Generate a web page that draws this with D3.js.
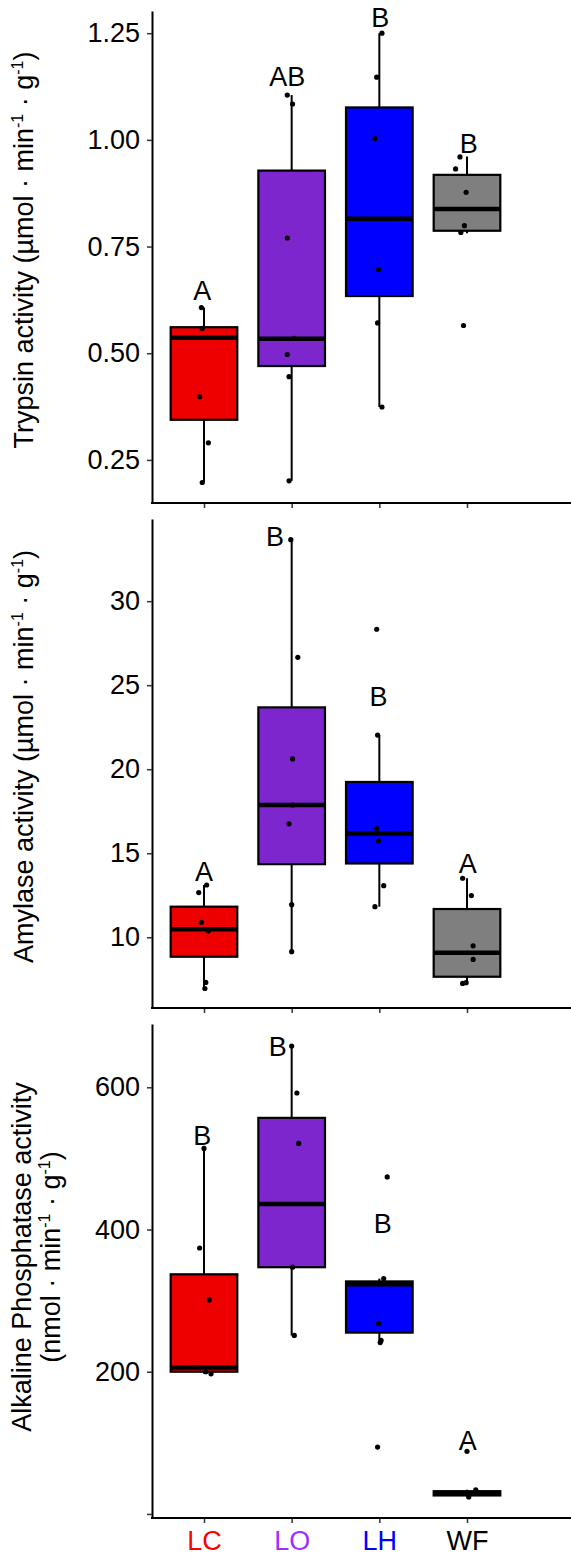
<!DOCTYPE html>
<html>
<head>
<meta charset="utf-8">
<script src="https://cdn.jsdelivr.net/npm/d3@7"></script>
<style>
  body { margin: 0; background: #fff; }
  svg { display: block; font-family: "Liberation Sans", Arial, Helvetica, sans-serif; }
</style>
</head>
<body>
<svg id="chart" width="571" height="1564"></svg>
<script>
// groups and colours
const groups = ["LC", "LO", "LH", "WF"];
const boxFill = ["#ee0000", "#7d26cd", "#0000ff", "#7f7f7f"];
const labelColor = ["#ff0000", "#9b30ff", "#0000ff", "#000000"];

// trypsin: [whisker low, q1, median, q3, whisker high] per group
const trypsinBox = [
  [0.197, 0.344, 0.536, 0.561, 0.607],
  [0.201, 0.470, 0.534, 0.928, 1.105],
  [0.374, 0.634, 0.815, 1.076, 1.250],
  [0.781, 0.787, 0.838, 0.918, 0.961]
];
const trypsinPoints = [
  [0.607, 0.558, 0.398, 0.290, 0.197],
  [1.105, 1.084, 0.770, 0.535, 0.497, 0.445, 0.201],
  [1.250, 1.147, 1.003, 0.696, 0.571, 0.374],
  [0.960, 0.932, 0.877, 0.799, 0.783, 0.565]
];
const trypsinJitter = [
  [-0.03, -0.02, -0.05, 0.05, -0.02],
  [-0.05, 0.01, -0.05, 0.03, -0.05, -0.03, -0.03],
  [0.03, -0.03, -0.05, -0.01, -0.02, 0.03],
  [-0.08, -0.13, -0.01, -0.03, -0.07, -0.04]
];
const trypsinLetters = ["A", "AB", "B", "B"];
const trypsinLetterY = [0.647, 1.149, 1.288, 0.992];
const trypsinLetterDx = [-0.02, -0.05, 0.01, 0.02];
const trypsinTicks = [0.25, 0.50, 0.75, 1.00, 1.25];

// amylase
const amylaseBox = [
  [6.95, 8.84, 10.47, 11.82, 13.11],
  [9.14, 14.35, 17.87, 23.68, 33.66],
  [11.82, 14.39, 16.18, 19.24, 22.03],
  [7.25, 7.65, 9.08, 11.68, 13.51]
];
const amylasePoints = [
  [13.11, 12.66, 10.89, 10.37, 7.31, 6.95],
  [33.66, 26.66, 20.61, 17.87, 16.75, 11.94, 9.14],
  [28.33, 22.03, 16.47, 15.74, 13.07, 11.82],
  [13.51, 12.48, 9.49, 8.68, 7.30, 7.25]
];
const amylaseJitter = [
  [0.03, -0.06, -0.03, 0.05, 0.02, 0.01],
  [-0.01, 0.07, 0.01, 0.01, -0.03, 0.00, 0.00],
  [-0.03, -0.02, -0.03, -0.01, 0.05, -0.05],
  [-0.05, 0.05, 0.07, 0.07, -0.01, -0.05]
];
const amylaseLetters = ["A", "B", "B", "A"];
const amylaseLetterY = [13.91, 33.88, 24.35, 14.41];
const amylaseLetterDx = [0.00, -0.19, -0.01, 0.01];
const amylaseTicks = [10, 15, 20, 25, 30];

// alkaline phosphatase
const alpBox = [
  [197, 200, 206, 337, 514],
  [251, 347, 436, 557, 658],
  [241, 255, 323, 327, 331],
  [24, 26, 29.5, 32, 34]
];
const alpPoints = [
  [514, 374, 301, 200, 197],
  [658, 592, 521, 347, 251],
  [474, 331, 268, 244, 241, 94],
  [88, 34, 24]
];
const alpJitter = [
  [0.00, -0.05, 0.06, 0.02, 0.08],
  [0.00, 0.06, 0.08, 0.01, 0.03],
  [0.09, 0.05, -0.01, 0.02, 0.01, -0.02],
  [0.00, 0.10, 0.02]
];
const alpLetters = ["B", "B", "B", "A"];
const alpLetterY = [533, 657, 409, 104];
const alpLetterDx = [-0.02, -0.16, 0.04, 0.01];
const alpTicks = [0, 200, 400, 600];

const svg = d3.select("#chart");
const left = 152, right = 571;

const x = d3.scalePoint().domain(groups).range([204, 467]);
const step = x.step();
const boxW = 0.76 * step;

const panels = [
  { top: 11, bottom: 503, domain: [0.149, 1.302], box: trypsinBox, points: trypsinPoints, jitter: trypsinJitter,
    letters: trypsinLetters, letterY: trypsinLetterY, letterDx: trypsinLetterDx, ticks: trypsinTicks,
    fmt: d3.format(".2f"), title: [["Trypsin activity (µmol · min", "-1", " · g", "-1", ")"]], xLabels: false },
  { top: 519, bottom: 1008, domain: [5.79, 34.89], box: amylaseBox, points: amylasePoints, jitter: amylaseJitter,
    letters: amylaseLetters, letterY: amylaseLetterY, letterDx: amylaseLetterDx, ticks: amylaseTicks,
    fmt: d3.format("d"), title: [["Amylase activity (µmol · min", "-1", " · g", "-1", ")"]], xLabels: false },
  { top: 1024, bottom: 1518, domain: [-5.7, 689], box: alpBox, points: alpPoints, jitter: alpJitter,
    letters: alpLetters, letterY: alpLetterY, letterDx: alpLetterDx, ticks: alpTicks,
    fmt: d => d === 0 ? "" : d3.format("d")(d),
    title: [["Alkaline Phosphatase activity"], ["(nmol · min", "-1", " · g", "-1", ")"]], xLabels: true }
];

panels.forEach(p => {
  const y = d3.scaleLinear().domain(p.domain).range([p.bottom, p.top]);
  const g = svg.append("g");

  // boxes
  const b = g.selectAll("g.box")
    .data(groups.map((k, i) => ({ k, i, s: p.box[i] })))
    .join("g");

  b.append("line")
    .attr("x1", d => x(d.k)).attr("x2", d => x(d.k))
    .attr("y1", d => y(d.s[0])).attr("y2", d => y(d.s[1]))
    .attr("stroke", "#000").attr("stroke-width", 2);
  b.append("line")
    .attr("x1", d => x(d.k)).attr("x2", d => x(d.k))
    .attr("y1", d => y(d.s[3])).attr("y2", d => y(d.s[4]))
    .attr("stroke", "#000").attr("stroke-width", 2);
  b.append("rect")
    .attr("x", d => x(d.k) - boxW / 2)
    .attr("width", boxW)
    .attr("y", d => y(d.s[3]))
    .attr("height", d => y(d.s[1]) - y(d.s[3]))
    .attr("fill", d => boxFill[d.i])
    .attr("stroke", "#000").attr("stroke-width", 2.2);
  b.append("line")
    .attr("x1", d => x(d.k) - boxW / 2).attr("x2", d => x(d.k) + boxW / 2)
    .attr("y1", d => y(d.s[2])).attr("y2", d => y(d.s[2]))
    .attr("stroke", "#000").attr("stroke-width", 4.5);

  // jittered points
  groups.forEach((k, i) => {
    g.selectAll(null)
      .data(p.points[i].map((v, j) => ({ v, dx: p.jitter[i][j] })))
      .join("circle")
      .attr("cx", d => x(k) + d.dx * step)
      .attr("cy", d => y(d.v))
      .attr("r", 2.6)
      .attr("fill", "#000");
  });

  // letters
  g.selectAll("text.letter")
    .data(groups.map((k, i) => ({ k, i })))
    .join("text")
    .attr("x", d => x(d.k) + p.letterDx[d.i] * step)
    .attr("y", d => y(p.letterY[d.i]))
    .attr("dy", "0.36em")
    .attr("text-anchor", "middle")
    .attr("font-size", 27)
    .text(d => p.letters[d.i]);

  // y axis
  const ya = g.append("g")
    .attr("transform", `translate(${left},0)`)
    .call(d3.axisLeft(y).tickValues(p.ticks).tickFormat(p.fmt).tickSize(5).tickSizeOuter(0).tickPadding(7));
  ya.select(".domain").attr("stroke", "#000").attr("stroke-width", 2);
  ya.selectAll(".tick line").attr("stroke", "#333").attr("stroke-width", 1.5);
  ya.selectAll(".tick text").attr("font-size", 27).attr("fill", "#000")
    .attr("font-family", "'Liberation Sans', Arial, sans-serif");

  // x axis
  const xa = g.append("g")
    .attr("transform", `translate(0,${p.bottom})`)
    .call(d3.axisBottom(x).tickSize(5).tickPadding(8).tickFormat(p.xLabels ? (d => d) : () => ""));
  xa.select(".domain").remove();
  xa.selectAll(".tick line").attr("stroke", "#333").attr("stroke-width", 1.5);
  xa.selectAll(".tick text").attr("font-size", 27)
    .attr("font-family", "'Liberation Sans', Arial, sans-serif")
    .attr("fill", d => labelColor[groups.indexOf(d)]);
  g.append("line")
    .attr("x1", left - 1).attr("x2", right)
    .attr("y1", p.bottom).attr("y2", p.bottom)
    .attr("stroke", "#000").attr("stroke-width", 2);

  // y title
  const lines = p.title;
  const cy = (p.top + p.bottom) / 2 - (lines.length > 1 ? 14 : 7);
  const t = g.append("text")
    .attr("transform", `translate(${lines.length > 1 ? 21 : 23},${cy}) rotate(-90)`)
    .attr("text-anchor", "middle")
    .attr("font-size", 27)
    .attr("fill", "#000");
  lines.forEach((parts, li) => {
    const row = t.append("tspan").attr("x", 0).attr("dy", li === 0 ? "0.36em" : "1.1em");
    parts.forEach((s, si) => {
      if (si % 2 === 1) {
        row.append("tspan").attr("font-size", 16).attr("dy", -10).text(s);
      } else {
        row.append("tspan").attr("dy", si === 0 ? null : 10).text(s);
      }
    });
  });
});
</script>
</body>
</html>
